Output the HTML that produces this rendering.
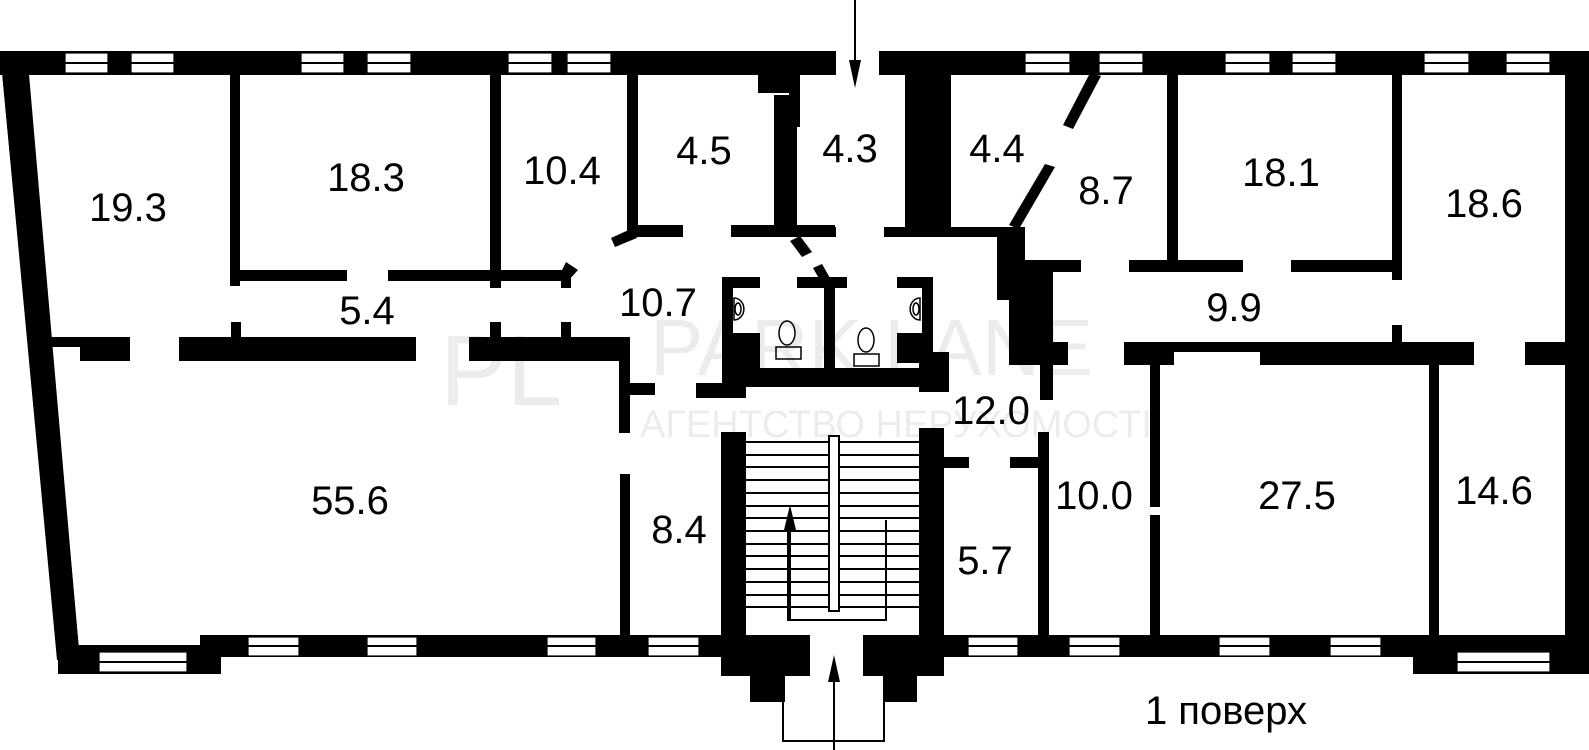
<!DOCTYPE html>
<html><head><meta charset="utf-8"><style>
html,body{margin:0;padding:0;background:#fff;}
svg{display:block}
text{font-family:"Liberation Sans",sans-serif;}
</style></head><body>
<svg width="1589" height="750" viewBox="0 0 1589 750" xmlns="http://www.w3.org/2000/svg">
<g fill="#000">
<!-- top wall -->
<rect x="0" y="51" width="836" height="24"/>
<rect x="879" y="51" width="710" height="24"/>
<!-- left slanted wall -->
<polygon points="0,51 27,51 78,640 58,660"/>
<polygon points="0,51 25,51 80,660 57,660"/>
<!-- right wall -->
<rect x="1565" y="51" width="24" height="623"/>
<!-- bottom walls -->
<rect x="200" y="635" width="522" height="22"/>
<rect x="58" y="645" width="163" height="29"/>
<rect x="200" y="635" width="21" height="39"/>
<rect x="944" y="635" width="470" height="22"/>
<rect x="1413" y="635" width="176" height="39"/>
<!-- entry -->
<rect x="721" y="635" width="89" height="41"/>
<rect x="750" y="676" width="35" height="26"/>
<rect x="863" y="635" width="81" height="41"/>
<rect x="883" y="676" width="34" height="26"/>
<!-- stair walls -->
<rect x="721" y="432" width="25" height="210"/>
<rect x="919" y="428" width="25" height="214"/>
<!-- left interior -->
<rect x="230" y="73" width="10" height="213"/>
<rect x="240" y="270" width="107" height="11"/>
<rect x="388" y="270" width="178" height="11"/>
<rect x="490" y="73" width="11" height="215"/>
<rect x="561" y="270" width="10" height="18"/>
<polygon points="566,262 578,270 568,281 560,274"/>
<rect x="627" y="73" width="11" height="164"/>
<rect x="635" y="225" width="48" height="12"/>
<polygon points="611,238 633,228 637,238 615,247"/>
<rect x="731" y="225" width="104" height="12"/>
<rect x="774" y="95" width="23" height="142"/>
<rect x="758" y="73" width="42" height="20"/>
<rect x="789" y="73" width="11" height="54"/>
<polygon points="790,241 800,236 812,252 802,257"/>
<polygon points="813,268 822,264 830,278 821,282"/>
<!-- 5.4 corridor bottom -->
<rect x="51" y="337" width="79" height="10"/>
<rect x="80" y="337" width="50" height="24"/>
<rect x="179" y="337" width="237" height="24"/>
<rect x="469" y="337" width="161" height="24"/>
<rect x="231" y="322" width="10" height="15"/>
<rect x="490" y="322" width="11" height="15"/>
<rect x="561" y="322" width="10" height="15"/>
<rect x="619" y="337" width="11" height="96"/>
<rect x="630" y="383" width="25" height="12"/>
<rect x="620" y="474" width="10" height="163"/>
<!-- WC block -->
<rect x="722" y="277" width="38" height="11"/>
<rect x="722" y="277" width="11" height="121"/>
<rect x="797" y="277" width="50" height="11"/>
<rect x="824" y="277" width="11" height="93"/>
<rect x="897" y="277" width="36" height="11"/>
<rect x="922" y="277" width="11" height="80"/>
<rect x="733" y="333" width="27" height="37"/>
<rect x="897" y="333" width="25" height="30"/>
<rect x="722" y="368" width="227" height="19"/>
<rect x="919" y="352" width="30" height="40"/>
<rect x="696" y="383" width="50" height="15"/>
<!-- center column & right top -->
<rect x="905" y="73" width="46" height="164"/>
<rect x="884" y="227" width="141" height="10"/>
<rect x="790" y="227" width="46" height="10"/>
<rect x="997" y="227" width="28" height="73"/>
<rect x="1009" y="262" width="44" height="103"/>
<rect x="1024" y="260" width="57" height="12"/>
<rect x="1040" y="342" width="28" height="23"/>
<rect x="1040" y="365" width="13" height="35"/>
<polygon points="1090,73 1101,76 1073,129 1063,125"/>
<polygon points="1045,164 1055,167 1019,229 1009,225"/>
<rect x="1167" y="73" width="11" height="192"/>
<rect x="1129" y="260" width="114" height="12"/>
<rect x="1291" y="260" width="101" height="12"/>
<rect x="1392" y="73" width="10" height="207"/>
<rect x="1392" y="325" width="10" height="17"/>
<rect x="1124" y="342" width="136" height="10"/>
<rect x="1124" y="342" width="50" height="23"/>
<rect x="1260" y="342" width="214" height="23"/>
<rect x="1525" y="342" width="64" height="23"/>
<!-- lower right -->
<rect x="942" y="457" width="27" height="11"/>
<rect x="1010" y="457" width="30" height="11"/>
<rect x="1038" y="432" width="11" height="205"/>
<rect x="1150" y="365" width="10" height="142"/>
<rect x="1150" y="515" width="10" height="122"/>
<rect x="1429" y="365" width="10" height="272"/>
</g>
<!-- windows -->
<g fill="#fff" stroke="#000" stroke-width="1.2">
<g id="wt">
<rect x="65" y="53" width="43" height="20"/><rect x="131" y="53" width="43" height="20"/>
<rect x="301" y="53" width="43" height="20"/><rect x="367" y="53" width="44" height="20"/>
<rect x="508" y="53" width="44" height="20"/><rect x="567" y="53" width="44" height="20"/>
<rect x="1025" y="53" width="45" height="20"/><rect x="1099" y="53" width="44" height="20"/>
<rect x="1225" y="53" width="45" height="20"/><rect x="1292" y="53" width="44" height="20"/>
<rect x="1424" y="53" width="45" height="20"/><rect x="1506" y="53" width="44" height="20"/>
<rect x="248" y="637" width="51" height="19"/><rect x="367" y="637" width="50" height="19"/>
<rect x="547" y="637" width="49" height="19"/><rect x="648" y="637" width="51" height="19"/>
<rect x="968" y="637" width="50" height="19"/><rect x="1069" y="637" width="51" height="19"/>
<rect x="1219" y="637" width="51" height="19"/><rect x="1330" y="637" width="51" height="19"/>
<rect x="99" y="652" width="88" height="20"/><rect x="1457" y="652" width="93" height="20"/>
</g>
</g>
<g stroke="#000" stroke-width="2">
<path d="M65 63h43M131 63h43M301 63h43M367 63h44M508 63h44M567 63h44M1025 63h45M1099 63h44M1225 63h45M1292 63h44M1424 63h45M1506 63h44M248 646h51M367 646h50M547 646h49M648 646h51M968 646h50M1069 646h51M1219 646h51M1330 646h51M99 662h88M1457 662h93"/>
</g>
<!-- stairs -->
<g stroke="#000" stroke-width="2" fill="none">
<path d="M746 442h173M746 455h173M746 467h173M746 480h173M746 493h173M746 506h173M746 518h173M746 531h173M746 544h173M746 556h173M746 569h173M746 582h173M746 595h173M746 607h173"/>
<rect x="829" y="436" width="10" height="175" fill="#fff"/>
<path d="M788 520V620H886V520"/>
<path d="M790 620V520"/>
<path d="M783 676V741H884V676"/>
<path d="M834 750V675"/>
<path d="M855 0V70"/>
</g>
<g fill="#000">
<polygon points="790,505 784,530 796,530"/>
<polygon points="834,655 828,682 840,682"/>
<polygon points="855,88 849,60 861,60"/>
</g>
<!-- fixtures -->
<g fill="#fff" stroke="#000" stroke-width="1.5">
<path d="M734 298a9 10 0 0 1 0 22z"/><ellipse cx="738" cy="309" rx="3" ry="6"/>
<path d="M920 298a-9 10 0 0 0 0 22z"/><ellipse cx="916" cy="309" rx="3" ry="6"/>
<ellipse cx="787" cy="333" rx="8" ry="12"/><rect x="776" y="347" width="25" height="12"/>
<ellipse cx="866" cy="340" rx="8" ry="12"/><rect x="854" y="354" width="25" height="12"/>
</g>
<!-- watermark -->
<g fill="#000" opacity="0.07" font-family="Liberation Serif, serif">
<text x="650" y="375" font-size="80" font-family="Liberation Serif, serif">PARK LANE</text>
<text x="440" y="405" font-size="100" font-family="Liberation Serif, serif">PL</text>
<text x="640" y="437" font-size="38">АГЕНТСТВО НЕРУХОМОСТІ</text>
</g>
<!-- labels -->
<g font-size="40" fill="#000" text-anchor="middle">
<text x="128" y="221">19.3</text>
<text x="366" y="191">18.3</text>
<text x="562" y="184">10.4</text>
<text x="704" y="164">4.5</text>
<text x="850" y="162">4.3</text>
<text x="997" y="162">4.4</text>
<text x="1106" y="204">8.7</text>
<text x="1281" y="186">18.1</text>
<text x="1484" y="217">18.6</text>
<text x="367" y="324">5.4</text>
<text x="658" y="316">10.7</text>
<text x="1234" y="321">9.9</text>
<text x="991" y="424">12.0</text>
<text x="350" y="514">55.6</text>
<text x="679" y="543">8.4</text>
<text x="985" y="574">5.7</text>
<text x="1094" y="509">10.0</text>
<text x="1297" y="509">27.5</text>
<text x="1494" y="504">14.6</text>
<text x="1226" y="724">1 поверх</text>
</g>
</svg>
</body></html>
